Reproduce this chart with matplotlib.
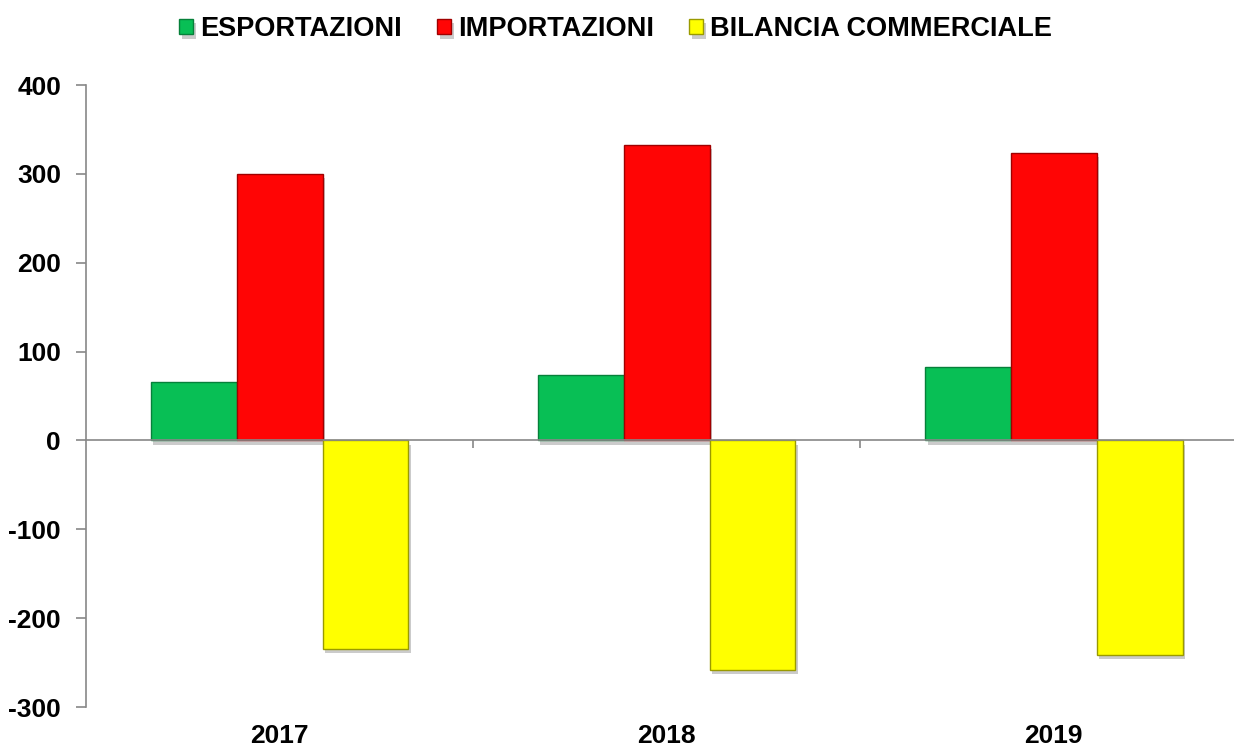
import matplotlib
matplotlib.use("Agg")
import matplotlib.pyplot as plt
import matplotlib.patheffects as pe
import numpy as np

plt.rcParams['font.family'] = ['Liberation Sans', 'DejaVu Sans']
plt.rcParams['font.weight'] = 'bold'
plt.rcParams['axes.unicode_minus'] = False

anni = ['2017', '2018', '2019']
esportazioni = [65.6, 74.2, 82.5]
importazioni = [300.0, 332.6, 323.5]
bilancia = [-234.4, -258.4, -241.0]

serie = ['ESPORTAZIONI', 'IMPORTAZIONI', 'BILANCIA COMMERCIALE']
colori = ['#08BF55', '#FF0505', '#FFFF00']
bordi = ['#06803A', '#A00000', '#9A9A00']

fig = plt.figure(figsize=(12.34, 7.49), dpi=100)
ax = fig.add_axes([0.0697, 0.056, 0.941, 0.8305])

x = np.arange(len(anni))
w = 0.222
shadow = [pe.SimplePatchShadow(offset=(2, -3), shadow_rgbFace='#999999', alpha=0.5), pe.Normal()]
for i, (vals, c, b, lab) in enumerate(zip([esportazioni, importazioni, bilancia], colori, bordi, serie)):
    bars = ax.bar(x + (i - 1) * w, vals, w, color=c, edgecolor=b, linewidth=1.0, label=lab, zorder=3)
    for r in bars:
        r.set_path_effects(shadow)

ax.set_xlim(-0.5, 2.5)
ax.set_ylim(-300, 400)
ax.set_yticks(range(-300, 401, 100))
ax.tick_params(axis='y', length=7, width=1.2, color='#888888', pad=11, labelsize=19)

for s in ['top', 'right']:
    ax.spines[s].set_visible(False)
ax.spines['left'].set_color('#888888')
ax.spines['left'].set_linewidth(1.2)
ax.spines['bottom'].set_position(('data', 0))
ax.spines['bottom'].set_color('#888888')
ax.spines['bottom'].set_linewidth(1.2)
ax.spines['bottom'].set_zorder(4)

ax.set_xticks([])
ax.set_xticks([0.5, 1.5, 2.5], minor=True)
ax.tick_params(axis='x', which='minor', length=6, width=1.2, color='#888888', direction='out')

sec = ax.secondary_xaxis(0.0)
sec.set_xticks(x, anni)
sec.tick_params(length=0, pad=12, labelsize=19)
sec.spines['bottom'].set_visible(False)

ax.legend(loc='upper center', bbox_to_anchor=(0.456, 1.15), ncol=3, frameon=False,
          fontsize=19.5, handlelength=0.52, handleheight=0.52, handletextpad=0.26,
          columnspacing=1.3)

fig.savefig('out.png', dpi=100)
